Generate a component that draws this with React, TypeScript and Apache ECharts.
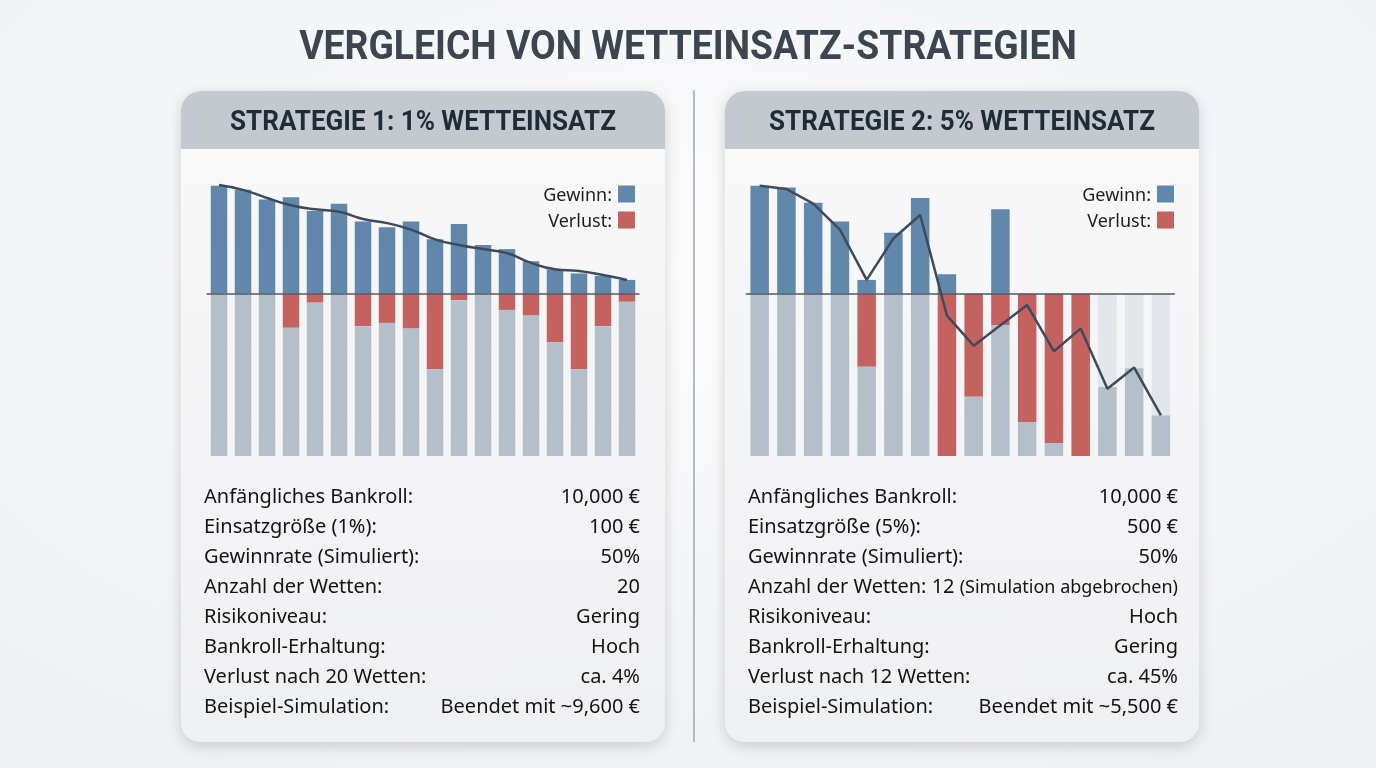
import React, { useEffect, useRef } from "react";
import * as echarts from "echarts";

// ---------- texts ----------
const mainTitle = "VERGLEICH VON WETTEINSATZ-STRATEGIEN";
const s1Title = "STRATEGIE 1: 1% WETTEINSATZ";
const s2Title = "STRATEGIE 2: 5% WETTEINSATZ";
const gainName = "Gewinn";
const lossName = "Verlust";

// ---------- data (relative units, baseline = 0, chart floor = -100) ----------
const depth = 100;

const s1Bets = ["1", "2", "3", "4", "5", "6", "7", "8", "9", "10", "11", "12", "13", "14", "15", "16", "17", "18"];
const s1Gain = [66.5, 64, 58, 59.5, 51, 55.5, 44.5, 41, 44.5, 33.5, 43, 30, 27.5, 20, 15, 12.5, 11, 8.5];
const s1Loss = [0, 0, 0, 21, 5.5, 0, 20, 18, 21.5, 46.5, 4, 0, 10, 13.5, 30, 46.5, 20, 5];
const s1Trend = [67, 64, 59, 54.5, 52, 50.5, 46, 43.5, 39.5, 33.5, 30, 27.5, 25, 19, 15, 14, 11.5, 8.5];

const s2Bets = ["1", "2", "3", "4", "5", "6", "7", "8", "9", "10", "11", "12", "13", "14", "15", "16"];
const s2Gain = [66.5, 65.5, 56, 44.5, 8.5, 37.5, 59, 12, 0, 52, 0, 0, 0, 0, 0, 0];
const s2Loss = [0, 0, 0, 0, 45, 0, 0, 100, 63.5, 19.5, 79, 92, 100, 0, 0, 0];
const s2Aborted = [0, 0, 0, 0, 0, 0, 0, 0, 0, 0, 0, 0, 0, 57.5, 46, 75];
const s2Trend = [66.5, 64.5, 55.5, 39.5, 8.5, 34, 48.5, -13.5, -32, -19.5, -7, -35.5, -21.5, -58.5, -45.5, -75];

const s1Labels = [
  "Anfängliches Bankroll:",
  "Einsatzgröße (1%):",
  "Gewinnrate (Simuliert):",
  "Anzahl der Wetten:",
  "Risikoniveau:",
  "Bankroll-Erhaltung:",
  "Verlust nach 20 Wetten:",
  "Beispiel-Simulation:",
];
const s1Values = ["10,000 €", "100 €", "50%", "20", "Gering", "Hoch", "ca. 4%", "Beendet mit ~9,600 €"];

const s2Labels = [
  "Anfängliches Bankroll:",
  "Einsatzgröße (5%):",
  "Gewinnrate (Simuliert):",
  "Anzahl der Wetten: 12",
  "Risikoniveau:",
  "Bankroll-Erhaltung:",
  "Verlust nach 12 Wetten:",
  "Beispiel-Simulation:",
];
const s2Values = ["10,000 €", "500 €", "50%", "(Simulation abgebrochen)", "Hoch", "Gering", "ca. 45%", "Beendet mit ~5,500 €"];

// ---------- styles ----------
const BLUE = "#6188ab";
const RED = "#c4625f";
const GREY = "#b5bfc9";
const FADED = "#e3e6ea";
const LINE = "#3f4a5a";
const FONT = "'Noto Sans', 'Open Sans', sans-serif";

function card(x: number, w: number, titleText: string) {
  const y = 91;
  const h = 651;
  return [
    {
      type: "rect",
      z: 0,
      shape: { x, y, width: w, height: h, r: 20 },
      style: {
        fill: new echarts.graphic.LinearGradient(0, 0, 0, 1, [
          { offset: 0, color: "#f9f9fa" },
          { offset: 1, color: "#eff0f2" },
        ]),
        shadowBlur: 14,
        shadowColor: "rgba(0,0,0,0.16)",
        shadowOffsetY: 4,
      },
    },
    {
      type: "rect",
      z: 0,
      shape: { x, y, width: w, height: 58, r: [20, 20, 0, 0] },
      style: { fill: "#c3c9cf" },
    },
    {
      type: "text",
      z: 10,
      x: x + w / 2,
      y: 121,
      scaleX: 0.93,
      style: {
        text: titleText,
        fill: "#1f2b36",
        font: "bold 28px Roboto, sans-serif",
        align: "center",
        verticalAlign: "middle",
      },
    },
  ];
}

function rows(labels: string[], values: string[], left: number, right: number, smallIdx: number) {
  const out: any[] = [];
  labels.forEach((lab, i) => {
    const y = 495 + i * 30;
    out.push({
      type: "text",
      z: 10,
      x: left,
      y,
      style: { text: lab, fill: "#141414", font: `20px ${FONT}`, align: "left", verticalAlign: "middle" },
    });
    out.push({
      type: "text",
      z: 10,
      x: right,
      y: i === smallIdx ? y + 1 : y,
      style: {
        text: values[i],
        fill: "#141414",
        font: `${i === smallIdx ? 18 : 20}px ${FONT}`,
        align: "right",
        verticalAlign: "middle",
      },
    });
  });
  return out;
}

function barSeries(idx: number, stack: string, gain: number[], loss: number[], aborted: number[] | null, width: number) {
  const s: any[] = [
    {
      name: gainName,
      type: "bar",
      stack,
      xAxisIndex: idx,
      yAxisIndex: idx,
      barWidth: width,
      data: gain,
      itemStyle: { color: BLUE },
    },
    {
      name: lossName,
      type: "bar",
      stack,
      xAxisIndex: idx,
      yAxisIndex: idx,
      barWidth: width,
      data: loss.map((v) => -v),
      itemStyle: { color: RED },
    },
  ];
  if (aborted) {
    s.push({
      name: "Abgebrochen",
      type: "bar",
      stack,
      xAxisIndex: idx,
      yAxisIndex: idx,
      barWidth: width,
      data: aborted.map((v) => -v),
      itemStyle: { color: FADED },
    });
  }
  s.push({
    name: "Rest",
    type: "bar",
    stack,
    xAxisIndex: idx,
    yAxisIndex: idx,
    barWidth: width,
    data: loss.map((v, i) => -(depth - v - (aborted ? aborted[i] : 0))),
    itemStyle: { color: GREY },
  });
  return s;
}

export default function App() {
  const ref = useRef<HTMLDivElement>(null);
  useEffect(() => {
    if (!ref.current) return;
    const chart = echarts.init(ref.current, null, { renderer: "svg" });
    const axisCommon = {
      type: "category",
      axisTick: { show: false },
      axisLabel: { show: false },
      splitLine: { show: false },
      z: 3,
      axisLine: { show: true, onZero: true, lineStyle: { color: "#4e5967", width: 1.5 } },
    };
    const yCommon = { type: "value", min: -depth, max: 70, show: false };
    const legendCommon = {
      data: [gainName, lossName],
      orient: "vertical",
      align: "right",
      icon: "rect",
      itemWidth: 17,
      itemHeight: 17,
      itemGap: 8,
      top: 185,
      padding: 0,
      formatter: "{name}:",
      selectedMode: false,
      textStyle: { fontSize: 18, color: "#1e1e1e", fontFamily: FONT, padding: [0, 1, 0, 0] },
    };
    const option: any = {
      animation: false,
      backgroundColor: new echarts.graphic.RadialGradient(0.5, 0.35, 0.8, [
        { offset: 0, color: "#fcfcfd" },
        { offset: 1, color: "#edeff1" },
      ]),
      grid: [
        { left: 207, top: 180.1, width: 432, height: 275.9 },
        { left: 746.3, top: 180.1, width: 428, height: 275.9 },
      ],
      xAxis: [
        { ...axisCommon, gridIndex: 0, data: s1Bets },
        { ...axisCommon, gridIndex: 1, data: s2Bets },
      ],
      yAxis: [
        { ...yCommon, gridIndex: 0 },
        { ...yCommon, gridIndex: 1 },
      ],
      legend: [
        { ...legendCommon, right: 741 },
        { ...legendCommon, right: 202 },
      ],
      graphic: [
        {
          type: "text",
          z: 10,
          x: 688,
          y: 45,
          scaleX: 0.91,
          style: {
            text: mainTitle,
            fill: "#3c4550",
            font: "bold 41px Roboto, sans-serif",
            align: "center",
            verticalAlign: "middle",
          },
        },
        {
          type: "line",
          z: 0,
          shape: { x1: 694, y1: 90, x2: 694, y2: 742 },
          style: { stroke: "#b3bbc3", lineWidth: 2 },
        },
        ...card(181, 484, s1Title),
        ...card(725, 474, s2Title),
        ...rows(s1Labels, s1Values, 204, 640, -1),
        ...rows(s2Labels, s2Values, 748, 1178, 3),
      ],
      series: [
        ...barSeries(0, "s1", s1Gain, s1Loss, null, 16.5),
        {
          name: "Trend 1",
          type: "line",
          xAxisIndex: 0,
          yAxisIndex: 0,
          data: s1Trend,
          smooth: true,
          symbol: "none",
          z: 5,
          lineStyle: { color: LINE, width: 2.5 },
        },
        ...barSeries(1, "s2", s2Gain, s2Loss, s2Aborted, 18.5),
        {
          name: "Trend 2",
          type: "line",
          xAxisIndex: 1,
          yAxisIndex: 1,
          data: s2Trend,
          smooth: false,
          symbol: "none",
          z: 5,
          lineStyle: { color: LINE, width: 2.5 },
        },
      ],
    };
    chart.setOption(option);
    return () => chart.dispose();
  }, []);
  return (
    <div
      ref={ref}
      style={{ position: "fixed", left: 0, top: 0, width: 1376, height: 768 }}
    />
  );
}
